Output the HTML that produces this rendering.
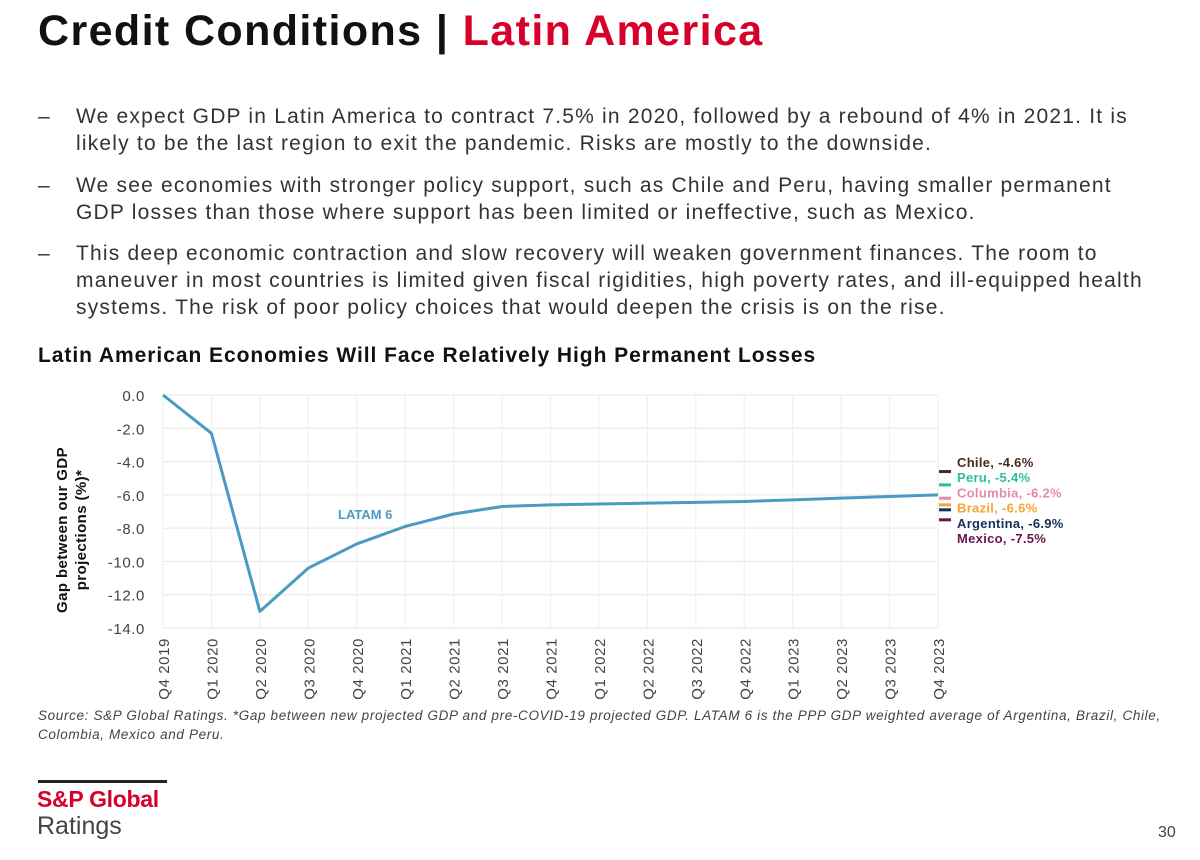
<!DOCTYPE html>
<html><head><meta charset="utf-8"><style>
body{margin:0;width:1200px;height:860px;background:#fff;font-family:"Liberation Sans",sans-serif;position:relative;overflow:hidden;color:#222}
.abs{position:absolute}
h1{position:absolute;left:38px;top:7px;margin:0;font-size:43px;font-weight:bold;color:#111;letter-spacing:1.4px;white-space:nowrap}
h1 span{color:#d6002a}
.bul{position:absolute;left:38px;font-size:21px;line-height:27px;color:#333;letter-spacing:1.2px;white-space:nowrap}
.bul .d{position:absolute;left:0}
.bul .t{position:absolute;left:38px}
</style></head><body>
<h1>Credit Conditions | <span>Latin America</span></h1>
<div class="bul" style="top:103px"><span class="d">–</span><div class="t">We expect GDP in Latin America to contract 7.5% in 2020, followed by a rebound of 4% in 2021. It is<br>likely to be the last region to exit the pandemic. Risks are mostly to the downside.</div></div>
<div class="bul" style="top:172px"><span class="d">–</span><div class="t">We see economies with stronger policy support, such as Chile and Peru, having smaller permanent<br>GDP losses than those where support has been limited or ineffective, such as Mexico.</div></div>
<div class="bul" style="top:240px"><span class="d">–</span><div class="t">This deep economic contraction and slow recovery will weaken government finances. The room to<br>maneuver in most countries is limited given fiscal rigidities, high poverty rates, and ill-equipped health<br>systems. The risk of poor policy choices that would deepen the crisis is on the rise.</div></div>
<div class="abs" style="left:38px;top:344px;font-size:21px;font-weight:bold;color:#111;letter-spacing:0.95px;white-space:nowrap">Latin American Economies Will Face Relatively High Permanent Losses</div>
<svg class="abs" style="left:0;top:0" width="1200" height="860" id="chart"></svg>
<div class="abs" style="left:38px;top:706px;font-size:13.5px;font-style:italic;line-height:19px;color:#444;letter-spacing:0.65px;white-space:nowrap">Source: S&amp;P Global Ratings. *Gap between new projected GDP and pre-COVID-19 projected GDP. LATAM 6 is the PPP GDP weighted average of Argentina, Brazil, Chile,<br>Colombia, Mexico and Peru.</div>
<div class="abs" style="left:38px;top:780px;width:129px;height:3px;background:#222"></div>
<div class="abs" style="left:37px;top:786px;font-size:23px;font-weight:bold;color:#d6002a;letter-spacing:-0.3px">S&amp;P Global</div>
<div class="abs" style="left:37px;top:812px;font-size:25px;color:#444">Ratings</div>
<div class="abs" style="left:1158px;top:824px;font-size:16px;color:#444">30</div>
<script>
const categories=["Q4 2019","Q1 2020","Q2 2020","Q3 2020","Q4 2020","Q1 2021","Q2 2021","Q3 2021","Q4 2021","Q1 2022","Q2 2022","Q3 2022","Q4 2022","Q1 2023","Q2 2023","Q3 2023","Q4 2023"];
const latam=[0,-2.3,-13.0,-10.4,-8.95,-7.9,-7.15,-6.7,-6.6,-6.55,-6.5,-6.45,-6.4,-6.3,-6.2,-6.1,-6.0];
const yTicks=[0,-2,-4,-6,-8,-10,-12,-14];
const countries=["Chile","Peru","Columbia","Brazil","Argentina","Mexico"];
const countryValues=[-4.6,-5.4,-6.2,-6.6,-6.9,-7.5];
const countryColors=["#4a2a1e","#2bbf9f","#e58aa8","#f5a533","#16305e","#6a1550"];
const NS="http://www.w3.org/2000/svg";
const svg=document.getElementById('chart');
const x0=163,x1=938,y0=395,y1=628;
const xs=i=>x0+(x1-x0)*i/(categories.length-1);
const ys=v=>y0+(y1-y0)*(v/-14);
function mk(t,a,txt){const e=document.createElementNS(NS,t);for(const k in a)e.setAttribute(k,a[k]);if(txt!=null)e.textContent=txt;svg.appendChild(e);return e;}
yTicks.forEach(v=>{
 const l=mk('line',{x1:x0,x2:x1,y1:ys(v),y2:ys(v),stroke:'#e6e6e6','stroke-width':1});
 
 
 const t=mk('text',{x:145,y:ys(v)+6,'text-anchor':'end','font-size':15,fill:'#444','letter-spacing':0.6},v.toFixed(1));
 
 
});
categories.forEach((c,i)=>{
 const l=mk('line',{x1:xs(i),x2:xs(i),y1:y0,y2:y1,stroke:'#eeeeee','stroke-width':1});
 
 
 const t=mk('text',{x:0,y:0,'text-anchor':'end','font-size':15,fill:'#444','letter-spacing':0.6,transform:`translate(${xs(i)+6},${y1+10}) rotate(-90)`},c);
 
 
});
const p=mk('polyline',{points:latam.map((v,i)=>xs(i)+','+ys(v)).join(' '),fill:'none',stroke:'#4a9bc4','stroke-width':3,'stroke-linejoin':'round'});


const ll=mk('text',{x:338,y:519,'font-size':13,fill:'#4a9bc4','font-weight':'bold'},'LATAM 6');


const yt=mk('text',{x:0,y:0,'text-anchor':'middle','font-size':15,'font-weight':'bold',fill:'#111','letter-spacing':0.4,transform:'translate(69,530) rotate(-90)'});


const s1=document.createElementNS(NS,'tspan');s1.setAttribute('x',0);s1.setAttribute('dy',-2);s1.textContent='Gap between our GDP';yt.appendChild(s1);
const s2=document.createElementNS(NS,'tspan');s2.setAttribute('x',0);s2.setAttribute('dy',19);s2.textContent='projections (%)*';yt.appendChild(s2);
countries.forEach((c,i)=>{
 const m=mk('line',{x1:939,x2:951,y1:ys(countryValues[i]),y2:ys(countryValues[i]),stroke:countryColors[i],'stroke-width':3});
 
 
 const t=mk('text',{x:957,y:467+i*15.2,'font-size':13,'font-weight':'bold',fill:countryColors[i],'letter-spacing':0.3},c+', '+countryValues[i].toFixed(1)+'%');
 
 
});
</script>
</body></html>
